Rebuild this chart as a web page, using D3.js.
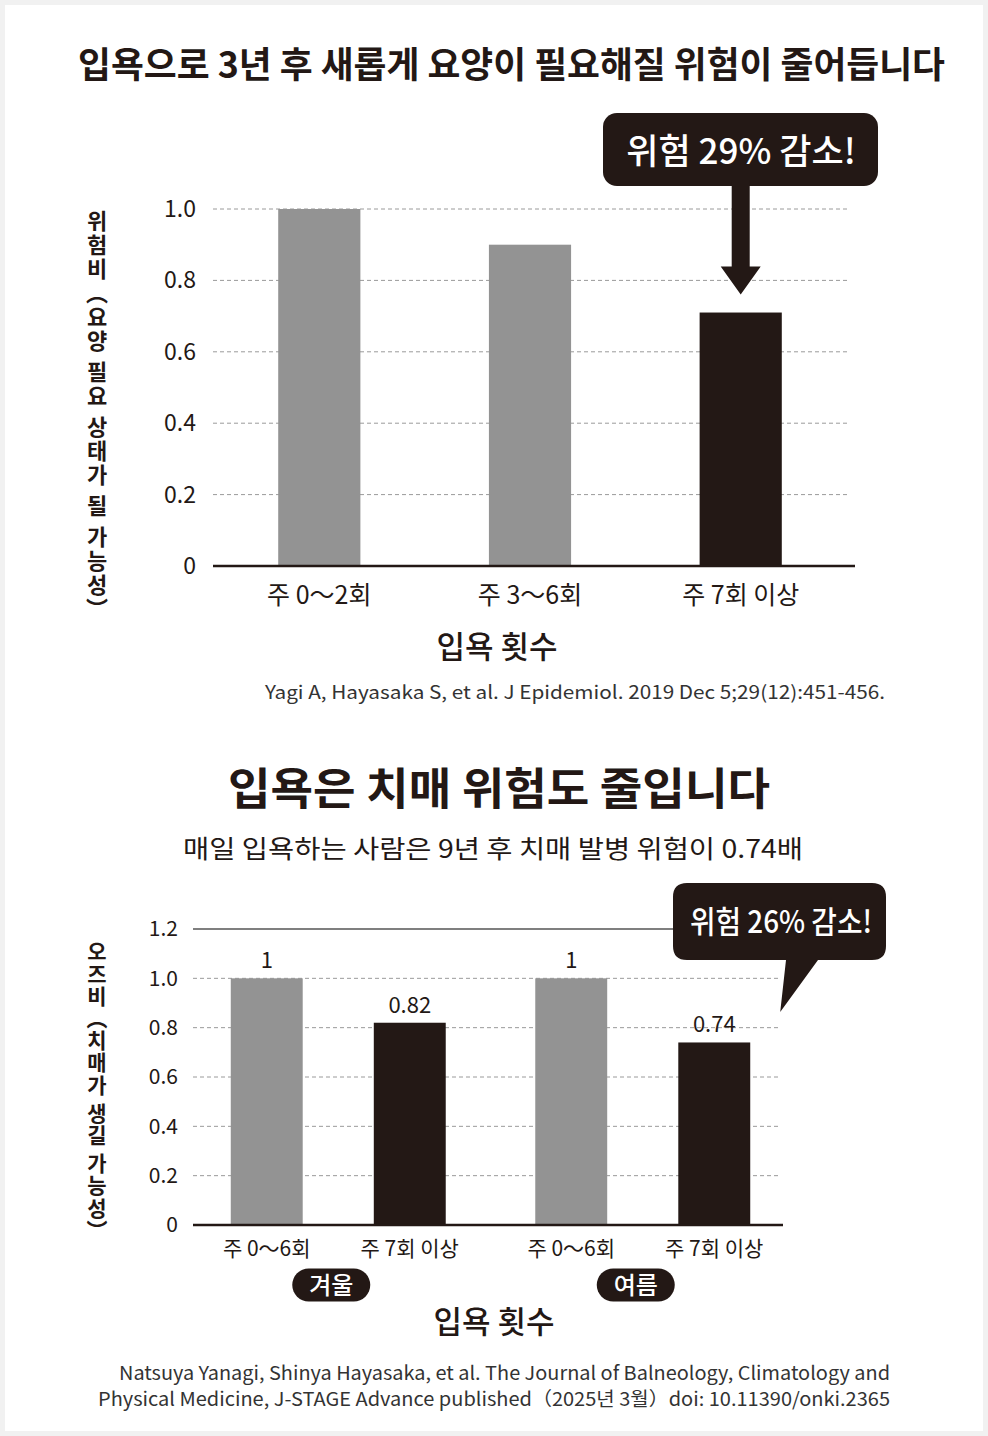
<!DOCTYPE html>
<html>
<head>
<meta charset="utf-8">
<script src="https://cdn.jsdelivr.net/npm/d3@7"></script>
<style>
  html, body { margin: 0; padding: 0; background: #f1f1f1; }
  svg { display: block; font-family: "Noto Sans CJK KR", "Noto Sans", sans-serif; }
</style>
</head>
<body>
<div id="chart"></div>
<script>
// top chart data
const topTitle = "입욕으로 3년 후 새롭게 요양이 필요해질 위험이 줄어듭니다";
const topCategories = ["주 0～2회", "주 3～6회", "주 7회 이상"];
const topValues = [1.0, 0.90, 0.71];
const topHighlight = [false, false, true];
const topTicks = [0, 0.2, 0.4, 0.6, 0.8, 1.0];
const topTickLabels = ["0", "0.2", "0.4", "0.6", "0.8", "1.0"];
const topYLabel = "위험비（요양 필요 상태가 될 가능성）";
const topXLabel = "입욕 횟수";
const topCallout = "위험 29% 감소!";
const topSource = "Yagi A, Hayasaka S, et al. J Epidemiol. 2019 Dec 5;29(12):451-456.";

// bottom chart data
const bottomTitle = "입욕은 치매 위험도 줄입니다";
const bottomSubtitle = "매일 입욕하는 사람은 9년 후 치매 발병 위험이 0.74배";
const bottomGroups = ["겨울", "여름"];
const bottomCategories = ["주 0～6회", "주 7회 이상"];
const winterValues = [1, 0.82];
const summerValues = [1, 0.74];
const winterLabels = ["1", "0.82"];
const summerLabels = ["1", "0.74"];
const bottomTicks = [0, 0.2, 0.4, 0.6, 0.8, 1.0, 1.2];
const bottomTickLabels = ["0", "0.2", "0.4", "0.6", "0.8", "1.0", "1.2"];
const bottomYLabel = "오즈비（치매가 생길 가능성）";
const bottomXLabel = "입욕 횟수";
const bottomCallout = "위험 26% 감소!";
const bottomSource = [
    "Natsuya Yanagi, Shinya Hayasaka, et al. The Journal of Balneology, Climatology and",
    "Physical Medicine, J-STAGE Advance published（2025년 3월）doi: 10.11390/onki.2365"
];

const dark = "#231815";
const gray = "#939393";
const ink = "#231815";

const svg = d3.select("#chart").append("svg")
    .attr("width", 988)
    .attr("height", 1436);

// light frame
svg.append("rect")
    .attr("x", 5).attr("y", 5)
    .attr("width", 978).attr("height", 1426)
    .attr("fill", "#fff");

// ---------- top chart ----------
svg.append("text")
    .attr("x", 78).attr("y", 78)
    .attr("font-size", 36)
    .attr("font-weight", 700)
    .attr("fill", ink)
    .attr("textLength", 867)
    .attr("lengthAdjust", "spacingAndGlyphs")
    .text(topTitle);

let yTop = d3.scaleLinear().domain([0, 1]).range([566, 209]);
let xTop = d3.scaleBand()
    .domain(topCategories)
    .range([215, 845])
    .paddingInner(0.61)
    .paddingOuter(0.3);

// dashed grid
svg.append("g").selectAll("line")
    .data(topTicks.filter(t => t > 0))
    .enter().append("line")
        .attr("x1", 213).attr("x2", 848)
        .attr("y1", t => yTop(t)).attr("y2", t => yTop(t))
        .attr("stroke", "#9a9a9a")
        .attr("stroke-width", 1)
        .attr("stroke-dasharray", "4,3");

svg.append("g").selectAll("text")
    .data(topTicks)
    .enter().append("text")
        .attr("x", 196)
        .attr("y", t => yTop(t))
        .attr("dy", "0.35em")
        .attr("text-anchor", "end")
        .attr("font-size", 23)
        .attr("fill", ink)
        .text((t, i) => topTickLabels[i]);

// bars
svg.append("g").selectAll("rect")
    .data(topCategories)
    .enter().append("rect")
        .attr("x", c => xTop(c))
        .attr("width", xTop.bandwidth())
        .attr("y", (c, i) => yTop(topValues[i]))
        .attr("height", (c, i) => yTop(0) - yTop(topValues[i]))
        .attr("fill", (c, i) => topHighlight[i] ? dark : gray);

svg.append("line")
    .attr("x1", 213).attr("x2", 855)
    .attr("y1", yTop(0)).attr("y2", yTop(0))
    .attr("stroke", ink)
    .attr("stroke-width", 2.5);

svg.append("g").selectAll("text")
    .data(topCategories)
    .enter().append("text")
        .attr("x", c => xTop(c) + xTop.bandwidth() / 2)
        .attr("y", 604)
        .attr("text-anchor", "middle")
        .attr("font-size", 25)
        .attr("fill", ink)
        .text(c => c);

svg.append("text")
    .attr("x", 497).attr("y", 658)
    .attr("text-anchor", "middle")
    .attr("font-size", 31)
    .attr("font-weight", 500)
    .attr("fill", ink)
    .text(topXLabel);

svg.append("text")
    .attr("x", 97).attr("y", 210)
    .attr("style", "writing-mode: vertical-rl")
    .attr("font-size", 22)
    .attr("font-weight", 700)
    .attr("letter-spacing", 2)
    .attr("fill", ink)
    .text(topYLabel);

svg.append("text")
    .attr("x", 885).attr("y", 699)
    .attr("text-anchor", "end")
    .attr("font-size", 18.5)
    .attr("fill", "#333")
    .attr("textLength", 620)
    .attr("lengthAdjust", "spacingAndGlyphs")
    .text(topSource);

// callout with arrow toward the highlighted bar
let hiCat = topCategories[topHighlight.indexOf(true)];
let hiVal = topValues[topHighlight.indexOf(true)];
let arrowX = xTop(hiCat) + xTop.bandwidth() / 2;
let tipY = yTop(hiVal) - 18;

svg.append("rect")
    .attr("x", 603).attr("y", 113)
    .attr("width", 275).attr("height", 73)
    .attr("rx", 14)
    .attr("fill", dark);

svg.append("path")
    .attr("d", d3.line()([
        [arrowX - 9, 180], [arrowX + 9, 180], [arrowX + 9, tipY - 28],
        [arrowX + 20, tipY - 28], [arrowX, tipY], [arrowX - 20, tipY - 28],
        [arrowX - 9, tipY - 28]
    ]) + "Z")
    .attr("fill", dark);

svg.append("text")
    .attr("x", 741).attr("y", 164)
    .attr("text-anchor", "middle")
    .attr("font-size", 35)
    .attr("font-weight", 500)
    .attr("fill", "#fff")
    .text(topCallout);

// ---------- bottom chart ----------
svg.append("text")
    .attr("x", 499).attr("y", 805)
    .attr("text-anchor", "middle")
    .attr("font-size", 44)
    .attr("font-weight", 700)
    .attr("fill", ink)
    .attr("textLength", 542)
    .attr("lengthAdjust", "spacingAndGlyphs")
    .text(bottomTitle);

svg.append("text")
    .attr("x", 493).attr("y", 858)
    .attr("text-anchor", "middle")
    .attr("font-size", 25)
    .attr("fill", ink)
    .attr("textLength", 620)
    .attr("lengthAdjust", "spacingAndGlyphs")
    .text(bottomSubtitle);

let yBot = d3.scaleLinear().domain([0, 1.2]).range([1225, 929]);
let x0 = d3.scaleBand().domain(bottomGroups).range([186, 795]);
let x1 = d3.scaleBand()
    .domain(bottomCategories)
    .range([0, x0.bandwidth()])
    .paddingInner(0.497)
    .paddingOuter(0.313);

let bottomData = [];
bottomGroups.forEach((g, gi) => {
    let vals = gi == 0 ? winterValues : summerValues;
    let labels = gi == 0 ? winterLabels : summerLabels;
    bottomCategories.forEach((c, ci) => {
        bottomData.push({group: g, cat: c, value: vals[ci], label: labels[ci], dark: ci == 1});
    });
});

svg.append("g").selectAll("line")
    .data(bottomTicks.filter(t => t > 0 && t < 1.2))
    .enter().append("line")
        .attr("x1", 193).attr("x2", 778)
        .attr("y1", t => yBot(t)).attr("y2", t => yBot(t))
        .attr("stroke", "#9a9a9a")
        .attr("stroke-width", 1)
        .attr("stroke-dasharray", "4,3");

svg.append("line")
    .attr("x1", 193).attr("x2", 673)
    .attr("y1", yBot(1.2)).attr("y2", yBot(1.2))
    .attr("stroke", "#555")
    .attr("stroke-width", 1.5);

svg.append("g").selectAll("text")
    .data(bottomTicks)
    .enter().append("text")
        .attr("x", 178)
        .attr("y", t => yBot(t))
        .attr("dy", "0.35em")
        .attr("text-anchor", "end")
        .attr("font-size", 21)
        .attr("fill", ink)
        .text((t, i) => bottomTickLabels[i]);

svg.append("g").selectAll("rect")
    .data(bottomData)
    .enter().append("rect")
        .attr("x", d => x0(d.group) + x1(d.cat))
        .attr("width", x1.bandwidth())
        .attr("y", d => yBot(d.value))
        .attr("height", d => yBot(0) - yBot(d.value))
        .attr("fill", d => d.dark ? dark : gray);

svg.append("g").selectAll("text")
    .data(bottomData)
    .enter().append("text")
        .attr("x", d => x0(d.group) + x1(d.cat) + x1.bandwidth() / 2)
        .attr("y", d => yBot(d.value) - 10)
        .attr("text-anchor", "middle")
        .attr("font-size", 22)
        .attr("fill", ink)
        .text(d => d.label);

svg.append("line")
    .attr("x1", 193).attr("x2", 783)
    .attr("y1", yBot(0)).attr("y2", yBot(0))
    .attr("stroke", ink)
    .attr("stroke-width", 2.5);

svg.append("g").selectAll("text")
    .data(bottomData)
    .enter().append("text")
        .attr("x", d => x0(d.group) + x1(d.cat) + x1.bandwidth() / 2)
        .attr("y", 1256)
        .attr("text-anchor", "middle")
        .attr("font-size", 21)
        .attr("fill", ink)
        .text(d => d.cat);

// season pills
let pills = svg.append("g").selectAll("g")
    .data(bottomGroups)
    .enter().append("g")
        .attr("transform", g => "translate(" + (x0(g) + x0.bandwidth() / 2 - 7) + ",1285)");
pills.append("rect")
    .attr("x", -39).attr("y", -16.5)
    .attr("width", 78).attr("height", 33)
    .attr("rx", 16.5)
    .attr("fill", dark);
pills.append("text")
    .attr("y", 1)
    .attr("dy", "0.35em")
    .attr("text-anchor", "middle")
    .attr("font-size", 24)
    .attr("font-weight", 500)
    .attr("fill", "#fff")
    .text(g => g);

svg.append("text")
    .attr("x", 494).attr("y", 1333)
    .attr("text-anchor", "middle")
    .attr("font-size", 31)
    .attr("font-weight", 500)
    .attr("fill", ink)
    .text(bottomXLabel);

svg.append("text")
    .attr("x", 97).attr("y", 941)
    .attr("style", "writing-mode: vertical-rl")
    .attr("font-size", 21)
    .attr("font-weight", 700)
    .attr("letter-spacing", 1.2)
    .attr("fill", ink)
    .text(bottomYLabel);

// speech bubble callout
let last = bottomData[bottomData.length - 1];
let bubbleTipX = x0(last.group) + x1(last.cat) + x1.bandwidth() + 30;
let bubble = d3.path();
let bx = 673, by = 883, bw = 213, bh = 77, r = 14;
bubble.moveTo(bx + r, by);
bubble.lineTo(bx + bw - r, by);
bubble.quadraticCurveTo(bx + bw, by, bx + bw, by + r);
bubble.lineTo(bx + bw, by + bh - r);
bubble.quadraticCurveTo(bx + bw, by + bh, bx + bw - r, by + bh);
bubble.lineTo(818, by + bh);
bubble.lineTo(bubbleTipX, 1012);
bubble.lineTo(786, by + bh);
bubble.lineTo(bx + r, by + bh);
bubble.quadraticCurveTo(bx, by + bh, bx, by + bh - r);
bubble.lineTo(bx, by + r);
bubble.quadraticCurveTo(bx, by, bx + r, by);
bubble.closePath();
svg.append("path")
    .attr("d", bubble.toString())
    .attr("fill", dark);

svg.append("text")
    .attr("x", 781).attr("y", 933)
    .attr("text-anchor", "middle")
    .attr("font-size", 31)
    .attr("font-weight", 500)
    .attr("fill", "#fff")
    .attr("textLength", 182)
    .attr("lengthAdjust", "spacingAndGlyphs")
    .text(bottomCallout);

svg.append("g").selectAll("text")
    .data(bottomSource)
    .enter().append("text")
        .attr("x", 890)
        .attr("y", (s, i) => 1380 + i * 26)
        .attr("text-anchor", "end")
        .attr("font-size", 19)
        .attr("fill", "#333")
        .attr("textLength", (s, i) => i == 0 ? 771 : 792)
        .attr("lengthAdjust", "spacingAndGlyphs")
        .text(s => s);
</script>
</body>
</html>
